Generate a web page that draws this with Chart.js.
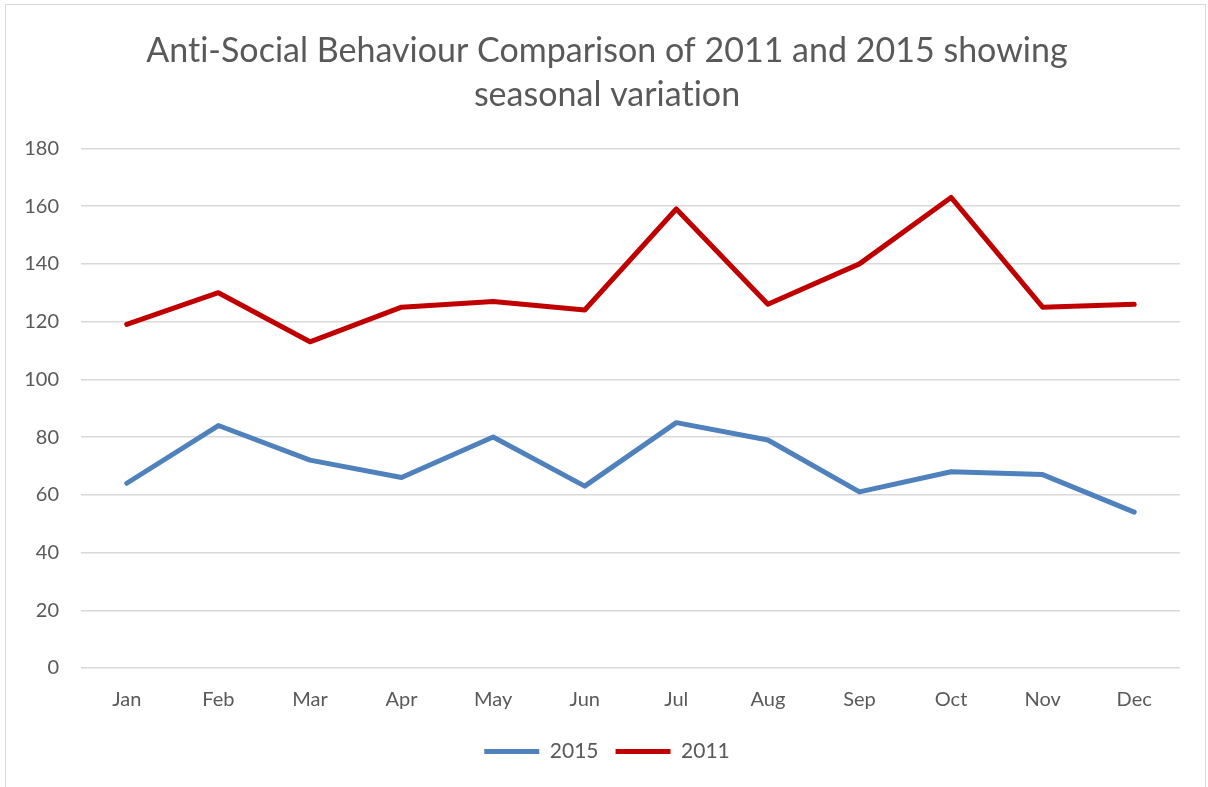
<!DOCTYPE html>
<html>
<head>
<meta charset="utf-8">
<script src="https://cdn.jsdelivr.net/npm/chart.js@4.4.0/dist/chart.umd.min.js"></script>
<style>
  html, body { margin: 0; padding: 0; background: #fff; }
  #wrap { position: absolute; left: 5px; top: 4px; width: 1201px; height: 790px; border: 1px solid #d9d9d9; box-sizing: border-box; }
  #holder { position: absolute; left: 0; top: 0; width: 1208px; height: 787px; }
</style>
</head>
<body>
<div id="wrap"></div>
<div id="holder"><canvas id="myChart" width="1208" height="787"></canvas></div>
<script>
// monthly counts
const months = ["Jan", "Feb", "Mar", "Apr", "May", "Jun", "Jul", "Aug", "Sep", "Oct", "Nov", "Dec"];
const values2015 = [64, 84, 72, 66, 80, 63, 85, 79, 61, 68, 67, 54];
const values2011 = [119, 130, 113, 125, 127, 124, 159, 126, 140, 163, 125, 126];
const yTicks = [0, 20, 40, 60, 80, 100, 120, 140, 160, 180];

const fontName = "Lato, 'Open Sans', sans-serif";
const grey = "#595959";

//tiny letter spacing so the "ti" ligature is not used
const noLigatures = {
  id: "noLigatures",
  beforeDraw(chart) {
    chart.ctx.letterSpacing = "0.01px";
  },
};

const ctx = document.getElementById("myChart").getContext("2d");
const myChart = new Chart(ctx, {
  type: "line",
  data: {
    labels: months,
    datasets: [
      {
        label: "2015",
        data: values2015,
        borderColor: "#4f81bd",
        backgroundColor: "#4f81bd",
        borderWidth: 5,
        borderCapStyle: "round",
        borderJoinStyle: "round",
        pointRadius: 0,
        tension: 0,
      },
      {
        label: "2011",
        data: values2011,
        borderColor: "#c00000",
        backgroundColor: "#c00000",
        borderWidth: 5,
        borderCapStyle: "round",
        borderJoinStyle: "round",
        pointRadius: 0,
        tension: 0,
      },
    ],
  },
  plugins: [noLigatures],
  options: {
    responsive: false,
    animation: false,
    layout: { padding: { left: 20, right: 14, top: 17, bottom: 15 } },
    plugins: {
      title: {
        display: true,
        text: ["Anti-Social Behaviour Comparison of 2011 and 2015 showing", "seasonal variation"],
        color: grey,
        font: { family: fontName, size: 34, weight: "normal", lineHeight: 1.3 },
        padding: { top: 12, bottom: 31 },
      },
      legend: {
        position: "bottom",
        labels: {
          usePointStyle: true,
          pointStyle: "line",
          pointStyleWidth: 55,
          color: grey,
          font: { family: fontName, size: 21 },
          padding: 17,
        },
      },
      tooltip: { enabled: false },
    },
    scales: {
      x: {
        offset: true,
        grid: { display: false },
        border: { display: false },
        ticks: { color: grey, font: { family: fontName, size: 20 }, padding: 12 },
      },
      y: {
        min: 0,
        max: 180,
        afterBuildTicks: (axis) => {
          axis.ticks = yTicks.map((v) => ({ value: v }));
        },
        afterFit: (axis) => {
          axis.width = 61;
        },
        grid: { color: "#d9d9d9", lineWidth: 1.5, drawTicks: false },
        border: { display: false },
        ticks: { color: grey, font: { family: fontName, size: 20 }, padding: 22 },
      },
      // empty strip on the right, keeps the title centred like the original
      yRight: {
        position: "right",
        grid: { display: false },
        border: { display: false },
        ticks: { display: false },
        afterFit: (axis) => {
          axis.width = 14;
        },
      },
    },
  },
});
</script>
</body>
</html>
